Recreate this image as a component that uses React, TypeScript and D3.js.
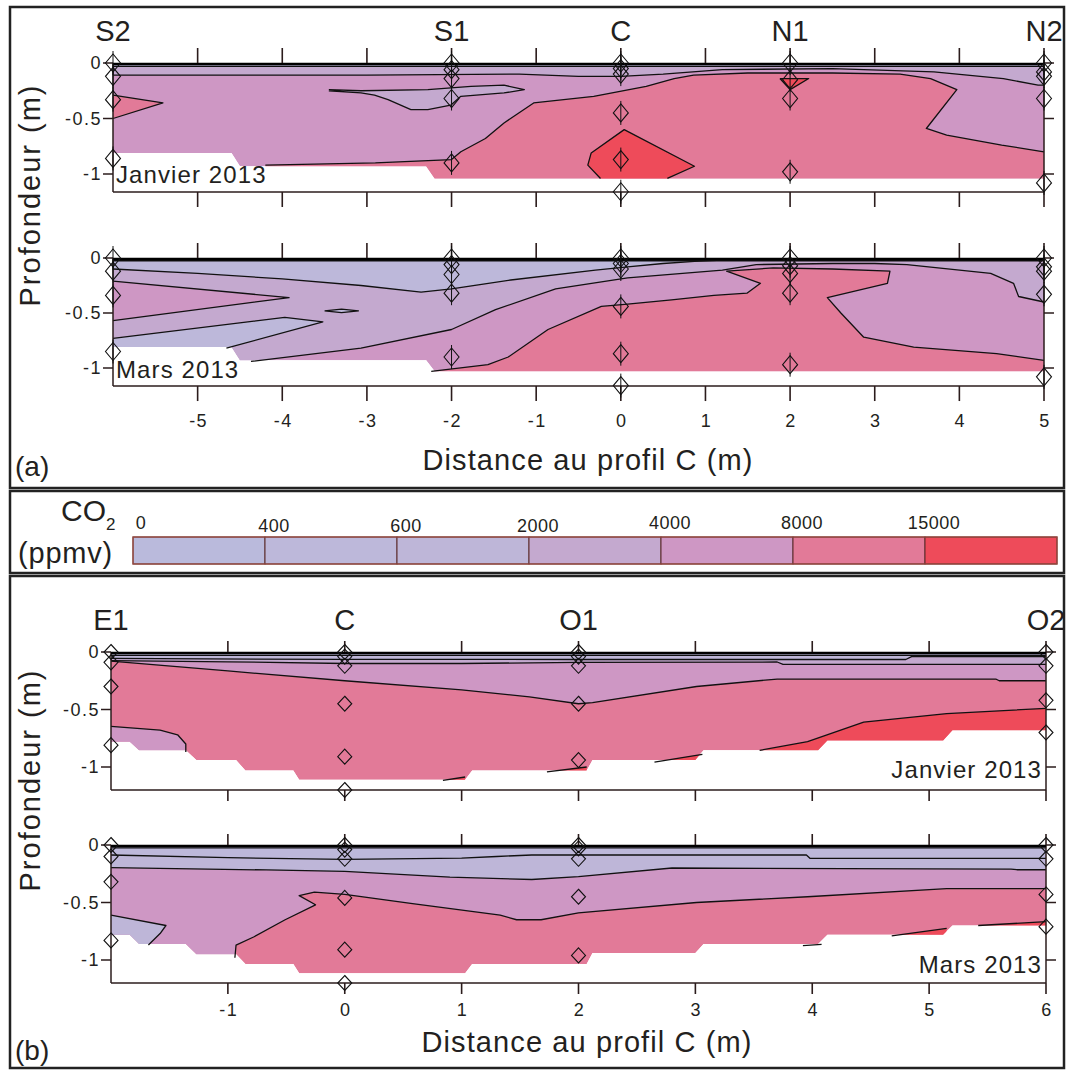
import React from "react";
import * as d3 from "d3";

type Pt = [number, number];

// ---------- legend ----------
const LEVEL_COLORS = ["#BABADC", "#BDB8DA", "#BEB6D8", "#C4A9CF", "#CE97C4", "#E27A98", "#EE4B5A"];
const LEGEND_LABELS = ["0", "400", "600", "2000", "4000", "8000", "15000"];

// ---------- ticks ----------
const A_TICKS = [-5, -4, -3, -2, -1, 0, 1, 2, 3, 4, 5];
const B_TICKS = [-1, 0, 1, 2, 3, 4, 5, 6];
const DEPTH_TICKS = [0, -0.5, -1];
const DEPTH_LABELS = ["0", "-0.5", "-1"];

// ---------- stations ----------
const A_STATION_NAMES = ["S2", "S1", "C", "N1", "N2"];
const A_STATION_X = [-6, -2, 0, 2, 5];
const B_STATION_NAMES = ["E1", "C", "O1", "O2"];
const B_STATION_X = [-2, 0, 2, 6];

const AJ_SENSORS: number[][] = [
  [0, -0.12, -0.33, -0.86],
  [0, -0.06, -0.14, -0.32, -0.9],
  [0, -0.05, -0.1, -0.45, -0.87, -1.16],
  [0, -0.15, -0.32, -0.98],
  [0, -0.08, -0.12, -0.32, -1.08],
];
const AM_SENSORS: number[][] = [
  [0, -0.12, -0.34, -0.85],
  [0, -0.06, -0.15, -0.32, -0.9],
  [0, -0.05, -0.1, -0.44, -0.87, -1.16],
  [0, -0.07, -0.14, -0.32, -0.97],
  [0, -0.08, -0.12, -0.33, -1.08],
];
const BJ_SENSORS: number[][] = [
  [0, -0.09, -0.3, -0.81],
  [0, -0.04, -0.12, -0.45, -0.91, -1.2],
  [0, -0.04, -0.12, -0.45, -0.94],
  [0, -0.12, -0.42, -0.7],
];
const BM_SENSORS: number[][] = [
  [0, -0.1, -0.32, -0.83],
  [0, -0.04, -0.12, -0.46, -0.91, -1.2],
  [0, -0.03, -0.12, -0.45, -0.96],
  [0, -0.12, -0.43, -0.71],
];

// ---------- panel (a) Janvier ----------
const AJ_BOTTOM: Pt[] = [[-6, -0.81], [-4.6, -0.81], [-4.5, -0.93], [-2.3, -0.93], [-2.2, -1.04], [5, -1.04]];
const AJ_TOP1: Pt[] = [[-6, -0.03], [5, -0.03]];
const AJ_TOP2: Pt[] = [[-6, -0.11], [-4.8, -0.11], [-3, -0.11], [-1.2, -0.1], [-0.5, -0.12], [0, -0.12], [0.5, -0.1], [1.2, -0.06], [2.5, -0.05], [3.7, -0.08], [4.52, -0.14], [4.93, -0.2], [5, -0.2]];
const AJ_PINK: Pt[] = [[-4.2, -0.92], [-2.9, -0.9], [-2.0, -0.87], [-1.89, -0.8], [-1.6, -0.68], [-1.38, -0.54], [-1.03, -0.36], [-0.32, -0.3], [0.3, -0.21], [0.63, -0.14], [0.86, -0.11], [1.5, -0.09], [2.5, -0.09], [3.3, -0.1], [3.66, -0.14], [3.97, -0.24], [3.61, -0.59], [3.85, -0.65], [4.5, -0.74], [5, -0.8]];
const AJ_LENS: Pt[] = [[-3.45, -0.24], [-3.07, -0.25], [-2.28, -0.24], [-1.77, -0.21], [-1.38, -0.2], [-1.14, -0.24], [-1.38, -0.27], [-1.89, -0.3], [-2.01, -0.38], [-2.28, -0.42], [-2.48, -0.42], [-2.75, -0.33], [-2.91, -0.29], [-3.07, -0.27], [-3.45, -0.25]];
const AJ_TONGUE: Pt[] = [[-6, -0.29], [-5.41, -0.36], [-6, -0.5]];
const AJ_RED: Pt[] = [[0.55, -1.04], [0.87, -0.93], [0.04, -0.6], [-0.35, -0.81], [-0.39, -0.92], [-0.24, -1.04]];
const AJ_RED2: Pt[] = [[1.88, -0.14], [2.22, -0.14], [2.0, -0.24], [1.88, -0.14]];

// ---------- panel (a) Mars ----------
const AM_BOTTOM: Pt[] = [[-6, -0.81], [-4.6, -0.81], [-4.5, -0.93], [-2.3, -0.93], [-2.2, -1.03], [5, -1.03]];
const AM_TOP1: Pt[] = [[-6, -0.025], [5, -0.025]];
const AM_A: Pt[] = [[-6, -0.1], [-5, -0.14], [-4, -0.19], [-3.07, -0.25], [-2.36, -0.31], [-2.0, -0.28], [-1.3, -0.2], [-0.3, -0.11], [0.08, -0.08], [0.5, -0.05], [0.87, -0.03], [1.2, -0.02]];
const AM_B: Pt[] = [[-6, -0.21], [-3.92, -0.36], [-6, -0.57]];
const AM_C: Pt[] = [[-6, -0.73], [-3.97, -0.54], [-3.52, -0.58], [-4.66, -0.82]];
const AM_D: Pt[] = [[-4.37, -0.94], [-3.07, -0.82], [-2.0, -0.65], [-1.48, -0.47], [-0.77, -0.28], [0.08, -0.18], [1.2, -0.11], [1.6, -0.06], [2.5, -0.05], [3.0, -0.05], [3.38, -0.06], [4.37, -0.14], [4.64, -0.23], [4.7, -0.35], [5, -0.4]];
const AM_E: Pt[] = [[-2.24, -1.03], [-1.57, -0.97], [-1.33, -0.9], [-0.86, -0.65], [-0.23, -0.44], [0.08, -0.42], [0.6, -0.38], [1.1, -0.34], [1.49, -0.32], [1.65, -0.23], [1.25, -0.12], [1.8, -0.09], [2.5, -0.1], [3.18, -0.12], [3.15, -0.23], [2.44, -0.36], [2.6, -0.5], [2.87, -0.72], [3.46, -0.81], [4.44, -0.87], [5, -0.93]];
const AM_LENS: Pt[] = [[-3.5, -0.48], [-3.3, -0.465], [-3.1, -0.48], [-3.3, -0.497], [-3.5, -0.48]];

// ---------- panel (b) Janvier ----------
const BJ_BOTTOM: Pt[] = [[-2, -0.78], [-1.84, -0.78], [-1.76, -0.855], [-1.36, -0.855], [-1.27, -0.94], [-0.93, -0.94], [-0.85, -1.03], [-0.44, -1.03], [-0.39, -1.11], [1.03, -1.11], [1.09, -1.03], [2.07, -1.03], [2.12, -0.94], [3.0, -0.94], [3.07, -0.855], [4.05, -0.855], [4.13, -0.77], [5.12, -0.77], [5.2, -0.68], [6, -0.68]];
const BJ_T1: Pt[] = [[-2, -0.03], [6, -0.03]];
const BJ_T2: Pt[] = [[-2, -0.055], [0, -0.065], [2, -0.065], [4.8, -0.065], [4.85, -0.04], [6, -0.04]];
const BJ_T3: Pt[] = [[-2, -0.075], [-1, -0.085], [0, -0.1], [1, -0.1], [2, -0.09], [3.7, -0.087], [3.75, -0.107], [6, -0.107]];
const BJ_P: Pt[] = [[-2, -0.08], [-1, -0.165], [0, -0.25], [1, -0.33], [1.58, -0.39], [2.0, -0.45], [2.12, -0.44], [3.01, -0.3], [3.7, -0.235], [5.57, -0.235], [5.6, -0.25], [6, -0.25]];
const BJ_E1: Pt[] = [[-2, -0.646], [-1.58, -0.68], [-1.43, -0.72], [-1.36, -0.8], [-1.36, -0.87]];
const BJ_RED: Pt[] = [[3.55, -0.855], [3.96, -0.78], [4.44, -0.61], [5.15, -0.536], [6, -0.49]];
const BJ_RED_S1: Pt[] = [[1.73, -1.043], [2.07, -1.0]];
const BJ_RED_S2: Pt[] = [[2.65, -0.957], [3.06, -0.89]];
const BJ_RED_S3: Pt[] = [[0.84, -1.116], [1.03, -1.087]];

// ---------- panel (b) Mars ----------
const BM_BOTTOM: Pt[] = [[-2, -0.78], [-1.84, -0.78], [-1.76, -0.86], [-1.36, -0.86], [-1.27, -0.95], [-0.93, -0.95], [-0.85, -1.035], [-0.44, -1.035], [-0.39, -1.116], [1.03, -1.116], [1.09, -1.035], [2.07, -1.035], [2.12, -0.94], [3.0, -0.94], [3.07, -0.86], [4.05, -0.86], [4.13, -0.78], [5.12, -0.78], [5.2, -0.7], [6, -0.7]];
const BM_T0: Pt[] = [[-2, -0.025], [6, -0.025]];
const BM_T1: Pt[] = [[-2, -0.087], [-1, -0.11], [0, -0.125], [1, -0.115], [1.3, -0.1], [1.6, -0.087], [3.95, -0.087], [3.98, -0.116], [6, -0.116]];
const BM_T2: Pt[] = [[-2, -0.197], [-0.67, -0.217], [0, -0.23], [0.9, -0.28], [1.6, -0.3], [2, -0.275], [2.8, -0.2], [5.7, -0.21], [5.75, -0.215], [6, -0.215]];
const BM_P: Pt[] = [[-0.94, -0.98], [-0.93, -0.87], [-0.78, -0.8], [-0.51, -0.65], [-0.25, -0.52], [-0.39, -0.44], [-0.26, -0.41], [0, -0.43], [0.58, -0.51], [1.33, -0.61], [1.47, -0.65], [1.68, -0.65], [2.0, -0.59], [3.01, -0.5], [3.96, -0.45], [5.15, -0.38], [6, -0.38]];
const BM_E1: Pt[] = [[-2, -0.61], [-1.53, -0.7], [-1.58, -0.77], [-1.68, -0.87]];
const BM_RED1: Pt[] = [[4.68, -0.79], [5.15, -0.725]];
const BM_RED2: Pt[] = [[5.42, -0.7], [6, -0.667]];
const BM_L3: Pt[] = [[3.92, -0.875], [4.08, -0.865]];

// ---------- helpers ----------
const TOP = 0.3;
const BOT = -2;
const above = (l: Pt[]): Pt[] => [[l[0][0], TOP], ...l, [l[l.length - 1][0], TOP]];
const below = (l: Pt[]): Pt[] => [...l, [l[l.length - 1][0], BOT], [l[0][0], BOT]];

interface Layer { level: number; poly: Pt[] }
interface PanelSpec {
  id: string;
  xDomain: [number, number];
  xRange: [number, number];
  y0: number;
  y1: number;
  frameBottom: number;
  bottom: Pt[];
  base: number;
  layers: Layer[];
  lines: Pt[][];
  stationX: number[];
  stationNames: string[];
  sensors: number[][];
  ticks: number[];
  tickLen: number;
  tickLabels: boolean;
  title: string;
  titleAnchor: "start" | "end";
  titleDy: number;
  diamondW: number;
  diamondH: number;
  pins: boolean;
}

const FONT = "'Liberation Sans', Arial, Helvetica, sans-serif";
const INK = "#231f20";
const FRAME = "#2b1c1c";

const PANELS: PanelSpec[] = [
  {
    id: "aJ", xDomain: [-6, 5], xRange: [113, 1044], y0: 63, y1: 174, frameBottom: -1.162,
    bottom: AJ_BOTTOM, base: 4,
    layers: [
      { level: 3, poly: above(AJ_TOP2) },
      { level: 1, poly: above(AJ_TOP1) },
      { level: 5, poly: below(AJ_PINK) },
      { level: 3, poly: AJ_LENS },
      { level: 5, poly: AJ_TONGUE },
      { level: 6, poly: below(AJ_RED) },
      { level: 6, poly: AJ_RED2 },
    ],
    lines: [AJ_TOP1, AJ_TOP2, AJ_PINK, AJ_LENS, AJ_TONGUE, AJ_RED, AJ_RED2],
    stationX: A_STATION_X, stationNames: A_STATION_NAMES, sensors: AJ_SENSORS,
    ticks: A_TICKS, tickLen: 15, tickLabels: false,
    title: "Janvier 2013", titleAnchor: "start", titleDy: 120,
    diamondW: 7.5, diamondH: 9, pins: true,
  },
  {
    id: "aM", xDomain: [-6, 5], xRange: [113, 1044], y0: 258, y1: 368, frameBottom: -1.164,
    bottom: AM_BOTTOM, base: 4,
    layers: [
      { level: 3, poly: [[-6, TOP], [-6, BOT], [AM_D[0][0], BOT], ...AM_D, [5, TOP]] as Pt[] },
      { level: 5, poly: below(AM_E) },
      { level: 4, poly: AM_B },
      { level: 1, poly: [...AM_C, [AM_C[AM_C.length - 1][0], BOT], [-6, BOT]] as Pt[] },
      { level: 1, poly: AM_LENS },
      { level: 1, poly: above(AM_A) },
      { level: 1, poly: above(AM_TOP1) },
    ],
    lines: [AM_TOP1, AM_A, AM_B, AM_C, AM_D, AM_E, AM_LENS],
    stationX: A_STATION_X, stationNames: [], sensors: AM_SENSORS,
    ticks: A_TICKS, tickLen: 15, tickLabels: true,
    title: "Mars 2013", titleAnchor: "start", titleDy: 120,
    diamondW: 7.5, diamondH: 9, pins: true,
  },
  {
    id: "bJ", xDomain: [-2, 6], xRange: [111, 1046], y0: 652, y1: 767, frameBottom: -1.2,
    bottom: BJ_BOTTOM, base: 5,
    layers: [
      { level: 4, poly: above(BJ_P) },
      { level: 3, poly: above(BJ_T3) },
      { level: 2, poly: above(BJ_T2) },
      { level: 1, poly: above(BJ_T1) },
      { level: 4, poly: below(BJ_E1) },
      { level: 6, poly: below(BJ_RED) },
      { level: 6, poly: below(BJ_RED_S1) },
      { level: 6, poly: below(BJ_RED_S2) },
      { level: 6, poly: below(BJ_RED_S3) },
    ],
    lines: [BJ_T1, BJ_T2, BJ_T3, BJ_P, BJ_E1, BJ_RED, BJ_RED_S1, BJ_RED_S2, BJ_RED_S3],
    stationX: B_STATION_X, stationNames: B_STATION_NAMES, sensors: BJ_SENSORS,
    ticks: B_TICKS, tickLen: 11, tickLabels: false,
    title: "Janvier 2013", titleAnchor: "end", titleDy: 126,
    diamondW: 7, diamondH: 7.5, pins: false,
  },
  {
    id: "bM", xDomain: [-2, 6], xRange: [111, 1046], y0: 845, y1: 960, frameBottom: -1.2,
    bottom: BM_BOTTOM, base: 5,
    layers: [
      { level: 4, poly: [[-2, TOP], [-2, BOT], [BM_P[0][0], BOT], ...BM_P, [6, TOP]] as Pt[] },
      { level: 2, poly: above(BM_T2) },
      { level: 1, poly: above(BM_T1) },
      { level: 2, poly: [...BM_E1, [BM_E1[BM_E1.length - 1][0], BOT], [-2, BOT]] as Pt[] },
      { level: 6, poly: below(BM_RED1) },
      { level: 6, poly: below(BM_RED2) },
    ],
    lines: [BM_T0, BM_T1, BM_T2, BM_P, BM_E1, BM_RED1, BM_RED2, BM_L3],
    stationX: B_STATION_X, stationNames: [], sensors: BM_SENSORS,
    ticks: B_TICKS, tickLen: 11, tickLabels: true,
    title: "Mars 2013", titleAnchor: "end", titleDy: 128,
    diamondW: 7, diamondH: 7.5, pins: false,
  },
];

function Panel({ spec }: { spec: PanelSpec }) {
  const x = d3.scaleLinear().domain(spec.xDomain).range(spec.xRange);
  const y = d3.scaleLinear().domain([0, -1]).range([spec.y0, spec.y1]);
  const line = d3.line<Pt>().x((p) => x(p[0])).y((p) => y(p[1]));
  const [xmin, xmax] = spec.xDomain;
  const domainPoly: Pt[] = [[xmin, 0], ...spec.bottom, [xmax, 0]];
  const fb = y(spec.frameBottom);
  const top = y(0);
  const L = x(xmin);
  const R = x(xmax);
  const tl = spec.tickLen;
  const clipId = `clip-${spec.id}`;
  return (
    <g>
      <defs>
        <clipPath id={clipId}>
          <path d={line(domainPoly) + "Z"} />
        </clipPath>
      </defs>
      <g clipPath={`url(#${clipId})`}>
        <path d={line(domainPoly) + "Z"} fill={LEVEL_COLORS[spec.base]} />
        {spec.layers.map((l, i) => (
          <path key={i} d={line(l.poly) + "Z"} fill={LEVEL_COLORS[l.level]} />
        ))}
      </g>
      {spec.lines.map((l, i) => (
        <path key={i} d={line(l) || ""} fill="none" stroke="#111" strokeWidth={1.3} strokeLinejoin="round" />
      ))}
      {/* frame */}
      <line x1={L} x2={L} y1={top} y2={fb} stroke={FRAME} strokeWidth={1.5} />
      <line x1={R} x2={R} y1={top} y2={fb} stroke={FRAME} strokeWidth={1.5} />
      <line x1={L} x2={R} y1={fb} y2={fb} stroke={FRAME} strokeWidth={1.5} />
      <line x1={L} x2={R} y1={top + 1} y2={top + 1} stroke="#000" strokeWidth={2.6} />
      {/* ticks */}
      {spec.ticks.map((t) => (
        <g key={t}>
          <line x1={x(t)} x2={x(t)} y1={top} y2={top - tl} stroke={FRAME} strokeWidth={1.6} />
          <line x1={x(t)} x2={x(t)} y1={fb} y2={fb + tl} stroke={FRAME} strokeWidth={1.6} />
        </g>
      ))}
      {DEPTH_TICKS.map((d, i) => (
        <g key={d}>
          <line x1={L} x2={L - 10} y1={y(d)} y2={y(d)} stroke={FRAME} strokeWidth={1.5} />
          <line x1={R} x2={R + 10} y1={y(d)} y2={y(d)} stroke={FRAME} strokeWidth={1.5} />
          <text x={L - 11} y={y(d) + 6} textAnchor="end" fontSize={18} letterSpacing={1.5} fill={INK} fontFamily={FONT}>
            {DEPTH_LABELS[i]}
          </text>
        </g>
      ))}
      {spec.tickLabels &&
        spec.ticks.map((t) => (
          <text key={t} x={x(t) + 1} y={fb + (spec.id === "aM" ? 41 : 33)} textAnchor="middle" fontSize={18} letterSpacing={1.5} fill={INK} fontFamily={FONT}>
            {t}
          </text>
        ))}
      {/* sensors */}
      {spec.stationX.map((sx, si) => (
        <g key={si}>
          {spec.sensors[si].map((d, k) => {
            const cx = x(sx);
            const cy = y(d);
            const w = spec.diamondW;
            const h = spec.diamondH;
            return (
              <g key={k}>
                <path d={`M${cx},${cy - h}L${cx + w},${cy}L${cx},${cy + h}L${cx - w},${cy}Z`} fill="none" stroke="#111" strokeWidth={1.1} />
                {spec.pins && (
                  <line x1={cx} x2={cx} y1={cy - h - 3} y2={cy + h + 3} stroke="#111" strokeWidth={1} />
                )}
              </g>
            );
          })}
        </g>
      ))}
      {/* station names */}
      {spec.stationNames.map((n, i) => (
        <text key={n + i} x={x(spec.stationX[i])} y={top - 22} textAnchor="middle" fontSize={29} fill={INK} fontFamily={FONT}>
          {n}
        </text>
      ))}
      <text
        x={spec.titleAnchor === "start" ? L + 3 : R - 4}
        y={top + spec.titleDy}
        textAnchor={spec.titleAnchor}
        fontSize={24}
        letterSpacing={1.1}
        fill={INK}
        fontFamily={FONT}
      >
        {spec.title}
      </text>
    </g>
  );
}

function Legend() {
  const band = d3.scaleBand<number>().domain(d3.range(LEVEL_COLORS.length)).range([133, 1057]).paddingInner(0).paddingOuter(0);
  const y0 = 537;
  const h = 27;
  return (
    <g>
      <text x={61} y={521} fontSize={30} fill={INK} fontFamily={FONT}>
        CO
        <tspan fontSize={17} dy={9}>2</tspan>
      </text>
      <text x={18} y={563} fontSize={29} letterSpacing={0.8} fill={INK} fontFamily={FONT}>
        (ppmv)
      </text>
      {LEVEL_COLORS.map((c, i) => (
        <rect key={i} x={band(i)} y={y0} width={band.bandwidth()} height={h} fill={c} stroke="#5b2a2a" strokeWidth={1} />
      ))}
      <rect x={133} y={y0} width={924} height={h} fill="none" stroke="#9a4a3e" strokeWidth={1.2} />
      {LEGEND_LABELS.map((lab, i) => (
        <text key={lab} x={(band(i) as number) + (i === 0 ? 8 : 9)} y={i < 4 && i > 0 ? 532 : 529} textAnchor="middle" fontSize={18} letterSpacing={0.5} fill={INK} fontFamily={FONT}>
          {lab}
        </text>
      ))}
    </g>
  );
}

export default function App() {
  return (
    <svg
      width={1073}
      height={1072}
      viewBox="0 0 1073 1072"
      style={{ position: "absolute", left: 0, top: 0, background: "#fff" }}
    >
      <rect x={0} y={0} width={1073} height={1072} fill="#fff" />
      {/* outer boxes */}
      <rect x={10} y={7} width={1054} height={481} fill="none" stroke="#222" strokeWidth={2.5} />
      <rect x={10} y={491} width={1054} height={82} fill="none" stroke="#222" strokeWidth={2.5} />
      <rect x={10} y={576} width={1054} height={492} fill="none" stroke="#222" strokeWidth={2.5} />

      {PANELS.map((p) => (
        <Panel key={p.id} spec={p} />
      ))}

      <Legend />

      {/* axis titles */}
      <text transform="translate(40,195) rotate(-90)" textAnchor="middle" fontSize={29} letterSpacing={2} fill={INK} fontFamily={FONT}>
        Profondeur (m)
      </text>
      <text transform="translate(40,780) rotate(-90)" textAnchor="middle" fontSize={29} letterSpacing={2} fill={INK} fontFamily={FONT}>
        Profondeur (m)
      </text>
      <text x={588} y={470} textAnchor="middle" fontSize={29} letterSpacing={1.1} fill={INK} fontFamily={FONT}>
        Distance au profil C (m)
      </text>
      <text x={587} y={1052} textAnchor="middle" fontSize={29} letterSpacing={1.1} fill={INK} fontFamily={FONT}>
        Distance au profil C (m)
      </text>
      <text x={15} y={476} fontSize={28} fill={INK} fontFamily={FONT}>(a)</text>
      <text x={15} y={1060} fontSize={28} fill={INK} fontFamily={FONT}>(b)</text>
    </svg>
  );
}
